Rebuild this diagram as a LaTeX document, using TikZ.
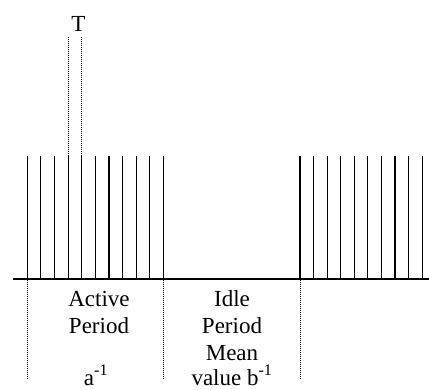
\documentclass[tikz,border=0pt]{standalone}
\usepackage{fontspec}
\setmainfont{Liberation Serif}
\begin{document}
\begin{tikzpicture}[x=1pt,y=-1pt,
  spike/.style={line width=1.5pt},
  axis/.style={line width=1.5pt},
  dotline/.style={line width=1pt,dash pattern=on 1pt off 1pt},
  lbl/.style={font=\fontsize{23}{27}\selectfont,align=center,inner sep=0pt,anchor=base}]
\useasboundingbox (0,0) rectangle (429,389);
% baseline
\coordinate (b0) at (13,279);
\coordinate (b1) at (429,279);
\draw[axis] (b0) -- (b1);
% left spikes
\foreach \x in {27.3,40.7,54.7,68.3,81.7,95.7,109,122.7,136.7,149.7,163.3}
  \draw[spike] (\x,279) -- (\x,156);
% right spikes
\foreach \x in {300,313.3,327.3,340.7,354.3,367.7,381.7,395,408.5,422.5}
  \draw[spike] (\x,279) -- (\x,156);
% T markers
\draw[dotline] (68.3,156) -- (68.3,37);
\draw[dotline] (81.7,156) -- (81.7,37);
\node[lbl] (T) at (78.5,31) {T};
% dotted separators
\draw[dotline] (27.3,280) -- (27.3,379);
\draw[dotline] (163.3,280) -- (163.3,379);
\draw[dotline] (300,280) -- (300,379);
% labels
\node[lbl] (act) at (99,306.5) {Active};
\node[lbl] (actp) at (99,333) {Period};
\node[lbl] (ainv) at (96,385) {a\textsuperscript{-1}};
\node[lbl] (idle) at (232,306.5) {Idle};
\node[lbl] (idlep) at (232,333.5) {Period};
\node[lbl] (mean) at (232,360) {Mean};
\node[lbl] (val) at (232,385) {value b\textsuperscript{-1}};
\end{tikzpicture}
\end{document}
